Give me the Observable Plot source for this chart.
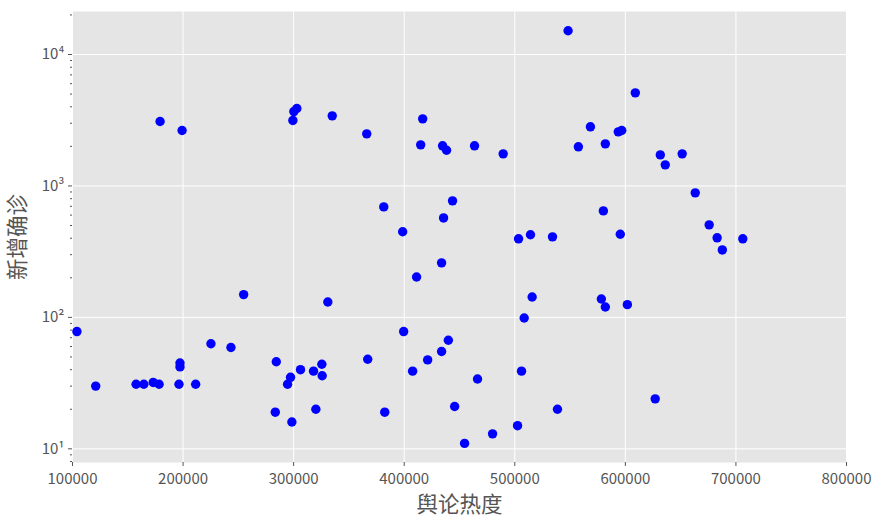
<!DOCTYPE html>
<html>
<head>
<meta charset="utf-8">
<script src="https://cdn.jsdelivr.net/npm/d3@7"></script>
<script src="https://cdn.jsdelivr.net/npm/@observablehq/plot@0.6"></script>
<style>
  html, body { margin: 0; padding: 0; background: #ffffff; }
</style>
</head>
<body>
<div id="chart"></div>
<script>
// 舆论热度 (x) values
const heat = [
  104000, 121000, 157500, 164500, 173000, 178300, 179200, 196300, 197200, 197200,
  199100, 211400, 225200, 243300, 254800, 283400, 284300, 294500, 297200, 298400,
  299300, 300200, 302900, 306200, 318000, 320100, 325500, 325800, 330900, 334900,
  366100, 367000, 381500, 382400, 398600, 399500, 407600, 411200, 414900, 416700,
  421200, 433800, 433800, 434700, 435600, 438300, 439900, 443700, 445600, 454600,
  463600, 466300, 479900, 489500, 502500, 503400, 506100, 508500, 514200, 515700,
  534100, 538600, 548200, 557500, 568400, 578300, 580100, 581900, 581900, 593600,
  595400, 596700, 601800, 609000, 627000, 631600, 636100, 651400, 663200, 675800,
  683000, 687700, 706200
];
// 新增确诊 (y) values
const cases = [
  78, 30, 31, 31, 32, 31, 3090, 31, 45, 42,
  2640, 31, 63, 59, 149, 19, 46, 31, 35, 16,
  3150, 3680, 3880, 40, 39, 20, 44, 36, 131, 3415,
  2490, 48, 693, 19, 448, 78, 39, 203, 2055, 3240,
  47.5, 260, 55, 2020, 571, 1870, 67, 770, 21, 11,
  2020, 34, 13, 1755, 15, 396, 39, 99, 425, 143,
  410, 20, 15150, 1985, 2818, 138, 646, 120, 2090, 2580,
  429, 2640, 125, 5110, 24, 1722, 1447, 1755, 886, 506,
  403, 326, 396
];
const xTicks = [100000, 200000, 300000, 400000, 500000, 600000, 700000, 800000];
const yTicks = [10, 100, 1000, 10000];
const yMinor = [8, 9, 20, 30, 40, 50, 60, 70, 80, 90, 200, 300, 400, 500, 600, 700, 800, 900,
                2000, 3000, 4000, 5000, 6000, 7000, 8000, 9000, 20000];
const xLabel = "舆论热度";
const yLabel = "新增确诊";

const data = heat.map((h, i) => ({h, c: cases[i]}));
const sup = {"0": "⁰", "1": "¹", "2": "²", "3": "³", "4": "⁴"};
const font = "'Noto Sans CJK SC', 'Noto Sans', sans-serif";

const chart = Plot.plot({
  width: 880,
  height: 526,
  marginLeft: 72,
  marginRight: 34,
  marginTop: 11,
  marginBottom: 64,
  style: {background: "#ffffff", fontFamily: font, color: "#555555"},
  x: {type: "linear", domain: [100000, 800000], label: null},
  y: {type: "log", domain: [7.87, 21240], label: null},
  marks: [
    Plot.frame({fill: "#E5E5E5", stroke: null}),
    Plot.gridX(xTicks, {stroke: "#ffffff", strokeOpacity: 1, strokeWidth: 1}),
    Plot.gridY(yTicks, {stroke: "#ffffff", strokeOpacity: 1, strokeWidth: 1}),
    Plot.axisX(xTicks, {tickSize: 4, tickPadding: 7, fontSize: 15, stroke: "#555555", fill: "#555555",
      tickFormat: d => String(d), label: null}),
    Plot.axisY(yTicks, {tickSize: 4, tickPadding: 4, fontSize: 15, stroke: "#555555", fill: "#555555",
      tickFormat: d => "10" + sup[String(Math.round(Math.log10(d)))], label: null}),
    Plot.axisY(yMinor, {tickSize: 2, stroke: "#555555", tickFormat: () => "", label: null}),
    Plot.dot(data, {x: "h", y: "c", r: 4.7, fill: "#0000FF", stroke: null}),
    Plot.text([xLabel], {frameAnchor: "bottom", lineAnchor: "middle", dy: 43, fontSize: 21.5, fill: "#555555", fontFamily: font}),
    Plot.text([yLabel], {frameAnchor: "left", dx: -54, rotate: -90, textAnchor: "middle", fontSize: 21.5, fill: "#555555", fontFamily: font})
  ]
});
document.getElementById("chart").appendChild(chart);
</script>
</body>
</html>
